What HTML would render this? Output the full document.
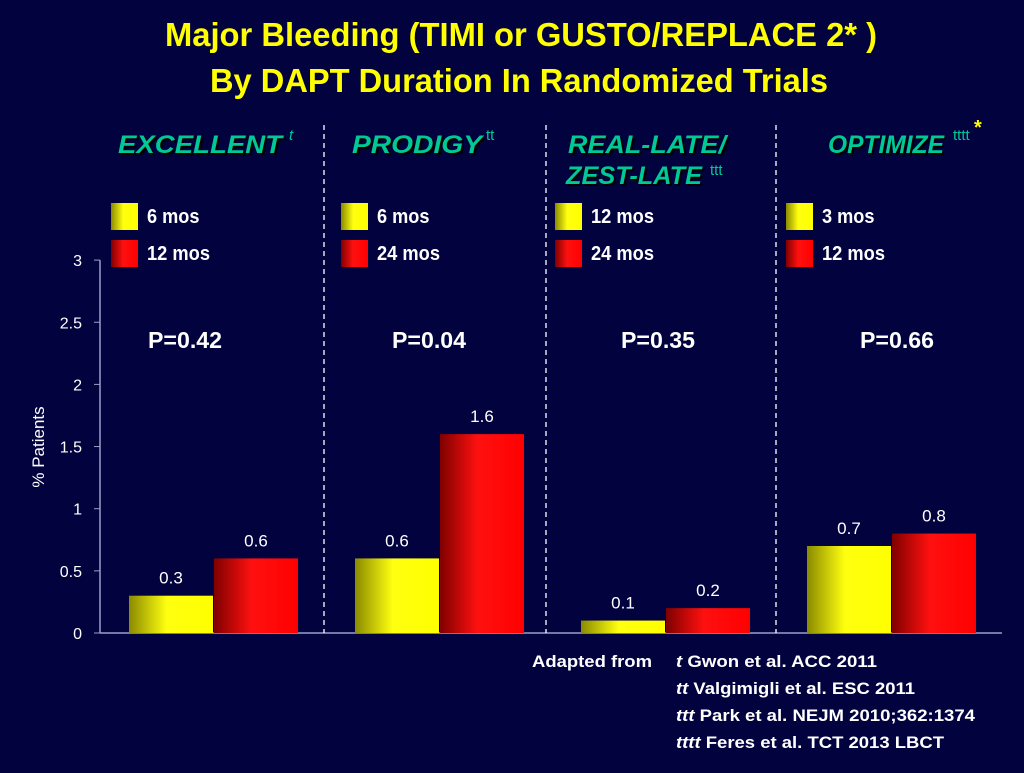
<!DOCTYPE html>
<html><head><meta charset="utf-8"><style>
body{margin:0;width:1024px;height:768px;background:#02023f;overflow:hidden;font-family:"Liberation Sans",sans-serif;}
svg text{font-family:"Liberation Sans",sans-serif;}
</style></head><body>
<svg width="1024" height="768">
<defs>
<linearGradient id="gy" x1="0" x2="1"><stop offset="0" stop-color="#8a8a00"/><stop offset="0.45" stop-color="#ffff10"/><stop offset="1" stop-color="#ffff00"/></linearGradient>
<linearGradient id="gr" x1="0" x2="1"><stop offset="0" stop-color="#800000"/><stop offset="0.45" stop-color="#ff1010"/><stop offset="1" stop-color="#ff0000"/></linearGradient>
</defs>
<g fill="#ffff00" font-weight="bold" font-size="33">
<text x="165" y="46" textLength="712" lengthAdjust="spacingAndGlyphs">Major Bleeding (TIMI or GUSTO/REPLACE 2* )</text>
<text x="210" y="92" textLength="618" lengthAdjust="spacingAndGlyphs">By DAPT Duration In Randomized Trials</text>
</g>
<g id="axis"></g>
<g id="groups"></g>
<g id="bars"></g>
<text transform="translate(44,447) rotate(-90)" fill="#fff" font-size="17" text-anchor="middle">% Patients</text>
<g fill="#fff" font-weight="bold" font-size="17">
<text x="532" y="667" textLength="120" lengthAdjust="spacingAndGlyphs">Adapted from</text>
<text x="676" y="667" textLength="201" lengthAdjust="spacingAndGlyphs"><tspan font-style="italic">t</tspan> Gwon et al. ACC 2011</text>
<text x="676" y="694" textLength="239" lengthAdjust="spacingAndGlyphs"><tspan font-style="italic">tt</tspan> Valgimigli et al. ESC 2011</text>
<text x="676" y="721" textLength="299" lengthAdjust="spacingAndGlyphs"><tspan font-style="italic">ttt</tspan> Park et al. NEJM 2010;362:1374</text>
<text x="676" y="748" textLength="268" lengthAdjust="spacingAndGlyphs"><tspan font-style="italic">tttt</tspan> Feres et al. TCT 2013 LBCT</text>
</g>
</svg>
<script>
const trials=["EXCELLENT","PRODIGY","REAL-LATE/ZEST-LATE","OPTIMIZE"];
const shortValues=[0.3,0.6,0.1,0.7];
const longValues=[0.6,1.6,0.2,0.8];
const shortLabels=["6 mos","6 mos","12 mos","3 mos"];
const longLabels=["12 mos","24 mos","24 mos","12 mos"];
const pValues=["P=0.42","P=0.04","P=0.35","P=0.66"];
const yTicks=[0,0.5,1,1.5,2,2.5,3];
const NS="http://www.w3.org/2000/svg";
const y=v=>633-v*124.3;
const gx=i=>100+i*226;
function mk(tag,attrs,parent,txt){const e=document.createElementNS(NS,tag);for(const k in attrs)e.setAttribute(k,attrs[k]);if(txt!==undefined)e.textContent=txt;parent.appendChild(e);return e;}
const ax=document.getElementById('axis'),gg=document.getElementById('groups'),bb=document.getElementById('bars');
let l=mk('line',{x1:100,x2:100,y1:y(3),y2:633,stroke:'#9aa0c8','stroke-width':1.5},ax);

l=mk('line',{x1:100,x2:1002,y1:633,y2:633,stroke:'#9aa0c8','stroke-width':1.5},ax);

yTicks.forEach(t=>{mk('line',{x1:94,x2:100,y1:y(t),y2:y(t),stroke:'#9aa0c8'},ax);
 const e=mk('text',{x:82,y:y(t)+6,fill:'#fff','font-size':16,'text-anchor':'end'},ax,String(t));
 });
[324,546,776].forEach(x=>{const e=mk('line',{x1:x,x2:x,y1:125,y2:633,stroke:'#fff','stroke-width':1.3,'stroke-dasharray':'5,4'},ax);
 });
const st={fill:'#00c896','font-weight':'bold','font-style':'italic','font-size':25,'lengthAdjust':'spacingAndGlyphs',style:'text-shadow:2px 2px 0 #000'};
const titleSpecs=[[118,153,164,"EXCELLENT"],[352,153,130,"PRODIGY"],[568,153,158,"REAL-LATE/"],[566,184,136,"ZEST-LATE"],[828,153,116,"OPTIMIZE"]];
const supSpecs=[[289,140,"t",true],[486,140,"tt",false],[710,175,"ttt",false],[953,140,"tttt",false]];
const legX=[111,341,555,786];
const pX=[185,429,658,897];
trials.forEach((t,i)=>{
 const g=mk('g',{},gg);
 titleSpecs.filter((s,k)=>(i<2?k===i:i===2?(k===2||k===3):k===4)).forEach(s=>{
  mk('text',Object.assign({x:s[0],y:s[1],textLength:s[2]},st),g,s[3]);});
 const sp=supSpecs[i];
 mk('text',{x:sp[0],y:sp[1],fill:'#00c896','font-size':15,'font-style':sp[3]?'italic':'normal'},g,sp[2]);
 if(i===3)mk('text',{x:974,y:134,fill:'#ffff00','font-size':20,'font-weight':'bold'},g,"*");
 const lx=legX[i];
 mk('rect',{x:lx,y:203,width:27,height:27,fill:'url(#gy)'},g);
 mk('rect',{x:lx,y:240,width:27,height:27,fill:'url(#gr)'},g);
 mk('text',{x:lx+36,y:223,fill:'#fff','font-weight':'bold','font-size':20,textLength:(shortLabels[i].length*10.5),lengthAdjust:'spacingAndGlyphs'},g,shortLabels[i]);
 mk('text',{x:lx+36,y:260,fill:'#fff','font-weight':'bold','font-size':20,textLength:(longLabels[i].length*10.5),lengthAdjust:'spacingAndGlyphs'},g,longLabels[i]);
 const p=mk('text',{x:pX[i]-37,y:348,fill:'#fff','font-weight':'bold','font-size':23,textLength:74,lengthAdjust:'spacingAndGlyphs'},g,pValues[i]);
 
});
trials.forEach((t,i)=>{
 [[shortValues,'url(#gy)',29,'short'],[longValues,'url(#gr)',114,'long']].forEach(([arr,f,off,nm])=>{
  const v=arr[i],x=gx(i)+off;
  const r=mk('rect',{x:x,y:y(v),width:84,height:633-y(v),fill:f},bb);
  
  const tx=mk('text',{x:x+42,y:y(v)-12,fill:'#fff','font-size':17,'text-anchor':'middle'},bb,String(v));
  
 });
});
</script>
</body></html>
